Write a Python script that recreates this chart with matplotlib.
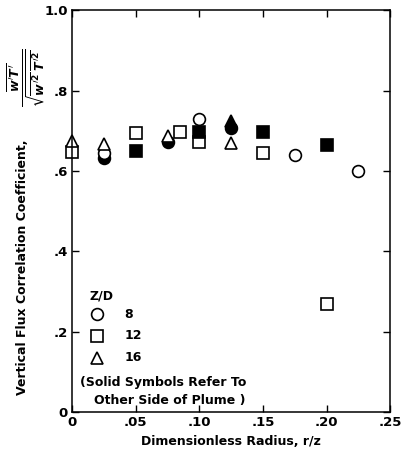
import matplotlib
matplotlib.use("Agg")
import matplotlib.pyplot as plt

plt.rcParams['font.family'] = ['DejaVu Sans']
plt.rcParams['font.weight'] = 'bold'
plt.rcParams['mathtext.fontset'] = 'dejavusans'

# Z/D = 8 (circles)
r8_open = [0.025, 0.10, 0.175, 0.225]
c8_open = [0.645, 0.729, 0.64, 0.60]
r8_solid = [0.025, 0.075, 0.125]
c8_solid = [0.632, 0.672, 0.708]

# Z/D = 12 (squares)
r12_open = [0.0, 0.05, 0.085, 0.10, 0.15, 0.20]
c12_open = [0.647, 0.694, 0.697, 0.672, 0.645, 0.27]
r12_solid = [0.05, 0.10, 0.15, 0.20]
c12_solid = [0.65, 0.697, 0.697, 0.664]

# Z/D = 16 (triangles)
r16_open = [0.0, 0.025, 0.075, 0.125]
c16_open = [0.674, 0.668, 0.686, 0.669]
r16_solid = [0.125]
c16_solid = [0.724]

xticks = [0, 0.05, 0.10, 0.15, 0.20, 0.25]
xlabels = ['0', '.05', '.10', '.15', '.20', '.25']
yticks = [0, 0.2, 0.4, 0.6, 0.8, 1.0]
ylabels = ['0', '.2', '.4', '.6', '.8', '1.0']

fig = plt.figure(figsize=(4.01, 4.59), dpi=100)
ax = fig.add_axes([0.18, 0.102, 0.793, 0.876])

kw = dict(linestyle='none', markersize=8.5, markeredgewidth=1.2, color='black',
          clip_on=False)
ax.plot(r8_solid, c8_solid, marker='o', markerfacecolor='black', **kw)
ax.plot(r16_solid, c16_solid, marker='^', markerfacecolor='black', **kw)
ax.plot(r12_open, c12_open, marker='s', markerfacecolor='white', **kw)
ax.plot(r12_solid, c12_solid, marker='s', markerfacecolor='black', **kw)
ax.plot(r8_open, c8_open, marker='o', markerfacecolor='white', **kw)
ax.plot(r16_open, c16_open, marker='^', markerfacecolor='white', **kw)

ax.set_xlim(0, 0.25)
ax.set_ylim(0, 1.0)
ax.set_xticks(xticks)
ax.set_xticklabels(xlabels)
ax.set_yticks(yticks)
ax.set_yticklabels(ylabels)
ax.tick_params(direction='in', top=True, right=True, length=5, width=1,
               labelsize=9.5, pad=3)
for s in ax.spines.values():
    s.set_linewidth(1.1)

ax.set_xlabel('Dimensionless Radius, r/z', fontsize=9, fontweight='bold')
fig.text(0.055, 0.14, 'Vertical Flux Correlation Coefficient,', rotation=90,
         ha='center', va='bottom', fontsize=9, fontweight='bold')
fig.text(0.065, 0.83,
         r'$\frac{\overline{w^{\prime}T^{\prime}}}{\sqrt{\overline{w^{\prime 2}}\;\overline{T^{\prime 2}}}}$',
         rotation=90, ha='center', va='center', fontsize=13)

# legend drawn by hand
ax.text(0.055, 0.29, 'Z/D', transform=ax.transAxes, fontsize=9, va='center')
items = [('o', '8'), ('s', '12'), ('^', '16')]
ys = [0.244, 0.19, 0.135]
for (m, lab), yy in zip(items, ys):
    ax.plot([0.077], [yy], transform=ax.transAxes, marker=m,
            markerfacecolor='white', **kw)
    ax.text(0.165, yy, lab, transform=ax.transAxes, fontsize=9, va='center')
ax.text(0.025, 0.075, '(Solid Symbols Refer To', transform=ax.transAxes,
        fontsize=9, va='center')
ax.text(0.07, 0.028, 'Other Side of Plume )', transform=ax.transAxes,
        fontsize=9, va='center')

fig.savefig('out.png', dpi=100)
